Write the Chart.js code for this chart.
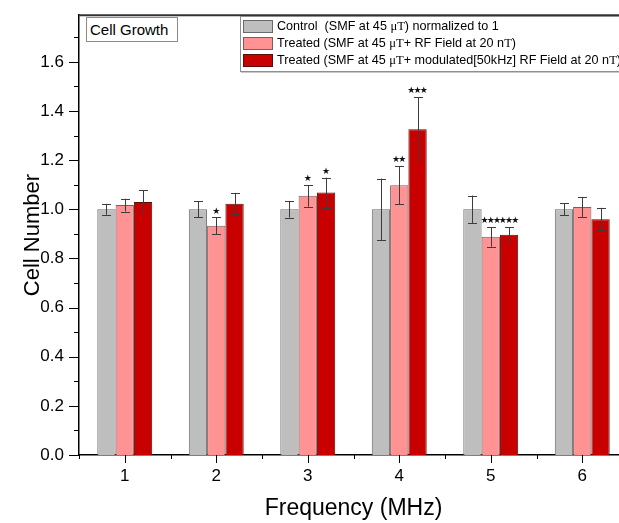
<!DOCTYPE html>
<html>
<head>
<meta charset="utf-8">
<script src="https://cdn.jsdelivr.net/npm/chart.js@4.4.1/dist/chart.umd.min.js"></script>
<style>
  html, body { margin: 0; padding: 0; background: #fff; width: 619px; height: 523px; overflow: hidden; }
  #wrap { position: relative; width: 640px; height: 523px; }
  canvas { display: block; }
  .box { position: absolute; box-sizing: border-box; background: #fff; color: #000;
         font-family: 'Liberation Sans', Arial, sans-serif; white-space: nowrap; }
  #cellTitle { left: 86px; top: 17px; width: 92px; height: 25px; border: 1px solid #8a8a8a;
               font-size: 15px; line-height: 23px; padding-left: 3px; }
  #legendBox { left: 240px; top: 16px; width: 420px; height: 56px; border: 1px solid #8f8f8f;
               box-shadow: 1px 1px 0 #c8c8c8; font-size: 12.6px; }
  .row { position: absolute; left: 2px; height: 13px; line-height: 13px; }
  .sw { display: inline-block; box-sizing: border-box; width: 30px; height: 13px; vertical-align: top;
        margin-right: 4px; border: 1px solid #666; }
  .mu { font-family: 'Liberation Serif', 'Times New Roman', serif; }
</style>
</head>
<body>
<div id="wrap">
  <canvas id="growthChart" width="640" height="523"></canvas>
  <div class="box" id="cellTitle">Cell Growth</div>
  <div class="box" id="legendBox"></div>
</div>
<script>
// --- data ---
const categories = ['1', '2', '3', '4', '5', '6'];

const controlVals = [1.000, 1.000, 1.000, 1.000, 1.000, 1.000];
const controlErr  = [0.022, 0.032, 0.034, 0.125, 0.056, 0.025];

const rfVals = [1.017, 0.933, 1.055, 1.098, 0.888, 1.009];
const rfErr  = [0.026, 0.034, 0.044, 0.078, 0.040, 0.040];

const modVals = [1.030, 1.023, 1.068, 1.326, 0.896, 0.960];
const modErr  = [0.047, 0.044, 0.061, 0.131, 0.032, 0.046];

// significance marks over each bar
const controlStars = ['', '', '', '', '', ''];
const rfStars      = ['', '*', '*', '**', '***', ''];
const modStars     = ['', '', '*', '***', '***', ''];

const yTickValues = [0, 0.2, 0.4, 0.6, 0.8, 1.0, 1.2, 1.4, 1.6];
const yMinorValues = [0.1, 0.3, 0.5, 0.7, 0.9, 1.1, 1.3, 1.5, 1.7];

const seriesLabels = [
  'Control&nbsp; (SMF at 45 <span class="mu">\u03BCT</span>) normalized to 1',
  'Treated (SMF at 45 <span class="mu">\u03BCT</span>+ RF Field at 20 n<span class="mu">T</span>)',
  'Treated (SMF at 45 <span class="mu">\u03BCT</span>+ modulated[50kHz] RF Field at 20 n<span class="mu">T</span>)'
];
const seriesColors  = ['#bebebe', '#ff9292', '#c80000'];
const seriesBorders = ['#6a6a6a', '#7a5c5c', '#5c0a0a'];

const FONT = "'Liberation Sans', Arial, sans-serif";

// error bars, stars, extra tick marks and the frame
const errorBarPlugin = {
  id: 'errorBars',
  afterDraw(chart) {
    const ctx = chart.ctx;
    const xs = chart.scales.x, ys = chart.scales.y;
    const area = chart.chartArea;
    const errs = [controlErr, rfErr, modErr];
    const stars = [controlStars, rfStars, modStars];

    ctx.save();
    // frame top / right
    ctx.strokeStyle = '#333';
    ctx.lineWidth = 2;
    ctx.beginPath();
    ctx.moveTo(area.left, area.top);
    ctx.lineTo(area.right, area.top);
    ctx.lineTo(area.right, area.bottom);
    ctx.stroke();

    // y ticks
    ctx.strokeStyle = '#000';
    ctx.lineWidth = 1;
    ctx.beginPath();
    yTickValues.forEach(v => {
      const y = Math.round(ys.getPixelForValue(v)) + 0.5;
      ctx.moveTo(area.left - 10, y); ctx.lineTo(area.left, y);
    });
    yMinorValues.forEach(v => {
      const y = Math.round(ys.getPixelForValue(v)) + 0.5;
      ctx.moveTo(area.left - 5, y); ctx.lineTo(area.left, y);
    });
    // x ticks
    const step = (area.right - area.left) / categories.length;
    categories.forEach((c, i) => {
      const x = Math.round(xs.getPixelForValue(i)) + 0.5;
      ctx.moveTo(x, area.bottom); ctx.lineTo(x, area.bottom + 8);
    });
    for (let i = 0; i <= categories.length; i++) {
      const x = Math.round(area.left + i * step) + 0.5;
      ctx.moveTo(x, area.bottom); ctx.lineTo(x, area.bottom + 4);
    }
    ctx.stroke();

    // error bars
    chart.data.datasets.forEach((ds, di) => {
      const meta = chart.getDatasetMeta(di);
      meta.data.forEach((bar, i) => {
        const v = ds.data[i], e = errs[di][i];
        const x = Math.round(bar.x) + 0.5;
        const yTop = ys.getPixelForValue(v + e);
        const yBot = ys.getPixelForValue(v - e);
        ctx.strokeStyle = '#3c3c3c';
        ctx.lineWidth = 1;
        ctx.beginPath();
        ctx.moveTo(x, yTop); ctx.lineTo(x, yBot);
        ctx.moveTo(x - 4.5, Math.round(yTop) + 0.5); ctx.lineTo(x + 4.5, Math.round(yTop) + 0.5);
        ctx.moveTo(x - 4.5, Math.round(yBot) + 0.5); ctx.lineTo(x + 4.5, Math.round(yBot) + 0.5);
        ctx.stroke();

        // stars, one glyph each so groups stay narrow
        const n = stars[di][i].length;
        if (n) {
          ctx.fillStyle = '#111';
          ctx.font = "9px 'DejaVu Sans'";
          ctx.textAlign = 'center';
          ctx.textBaseline = 'middle';
          for (let k = 0; k < n; k++) {
            ctx.fillText('\u2605', bar.x + (k - (n - 1) / 2) * 6.3, yTop - 6);
          }
        }
      });
    });
    ctx.restore();
  }
};

const ctx = document.getElementById('growthChart');
const chart = new Chart(ctx, {
  type: 'bar',
  data: {
    labels: categories,
    datasets: [controlVals, rfVals, modVals].map((vals, i) => ({
      label: seriesLabels[i],
      data: vals,
      backgroundColor: seriesColors[i],
      borderColor: seriesBorders[i],
      borderWidth: 1,
      categoryPercentage: 0.6,
      barPercentage: 1.0
    }))
  },
  options: {
    responsive: false,
    animation: false,
    devicePixelRatio: 1,
    layout: { padding: { top: 12, right: 12, left: 0, bottom: 0 } },
    plugins: { legend: { display: false }, tooltip: { enabled: false } },
    scales: {
      x: {
        grid: { display: false, drawTicks: true, tickLength: 8 },
        border: { display: true, color: '#000', width: 1.5 },
        ticks: { color: '#000', font: { family: FONT, size: 17 }, padding: 3, maxRotation: 0 },
        title: { display: true, text: 'Frequency (MHz)', color: '#000',
                 font: { family: FONT, size: 23 }, padding: { top: 0, bottom: 1 } },
        afterFit: s => { s.height = 68; }
      },
      y: {
        min: 0,
        max: 1.79,
        afterBuildTicks: s => { s.ticks = yTickValues.map(v => ({ value: v })); },
        grid: { display: false, drawTicks: true, tickLength: 10 },
        border: { display: true, color: '#000', width: 1.5 },
        ticks: { color: '#000', font: { family: FONT, size: 17 }, padding: 5,
                 callback: v => Number(v).toFixed(1) },
        title: { display: true, text: 'Cell Number', color: '#000',
                 font: { family: FONT, size: 22 }, padding: { top: 20, bottom: 0 } },
        afterFit: s => { s.width = 79; }
      }
    }
  },
  plugins: [errorBarPlugin]
});

// legend built from the datasets
const legendBox = document.getElementById('legendBox');
const rowTops = [3, 20, 37];
chart.data.datasets.forEach((ds, i) => {
  const row = document.createElement('div');
  row.className = 'row';
  row.style.top = rowTops[i] + 'px';
  row.innerHTML = '<span class="sw" style="background:' + ds.backgroundColor +
                  ';border-color:' + ds.borderColor + '"></span>' + ds.label;
  legendBox.appendChild(row);
});
</script>
</body>
</html>
